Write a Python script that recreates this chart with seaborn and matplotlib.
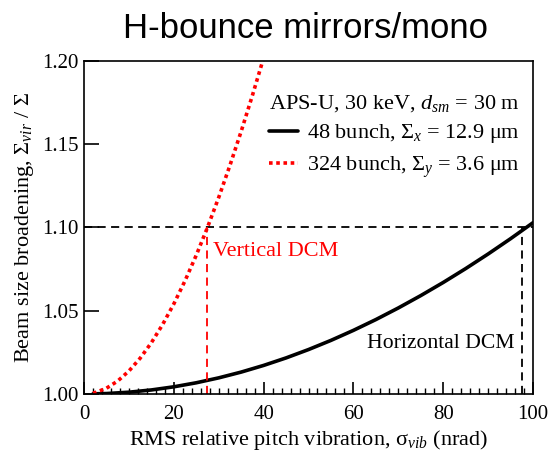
import numpy as np
import pandas as pd
import matplotlib
matplotlib.use("Agg")
import matplotlib.pyplot as plt
from matplotlib.ticker import MultipleLocator, FormatStrFormatter
from matplotlib.lines import Line2D
import seaborn as sns

# Data
vib_h = [2, 5, 10, 15, 20, 25, 30, 35, 40, 45, 50, 55, 60, 65, 70, 75, 80, 85, 90, 95, 100]
broad_h = [1.00011, 1.00027, 1.00108, 1.00243, 1.00432, 1.00674, 1.00969, 1.01316, 1.01716,
           1.02167, 1.02669, 1.03220, 1.03822, 1.04470, 1.05167, 1.05910, 1.06698, 1.07531,
           1.08408, 1.09327, 1.10288]
vib_v = [2, 2.5, 5, 7.5, 10, 12.5, 15, 17.5, 20, 22.5, 25, 27.5, 30, 32.5, 35, 37.5, 40]
broad_v = [1.00056, 1.00087, 1.00347, 1.00778, 1.01379, 1.02147, 1.03078, 1.04167, 1.05409,
           1.06800, 1.08333, 1.10003, 1.11803, 1.13728, 1.15770, 1.17925, 1.20185]

label_h = r"48 bunch, $\Sigma_x$ = 12.9 μm"
label_v = r"324 bunch, $\Sigma_y$ = 3.6 μm"
legend_title = r"APS-U, 30 keV, $d_{sm}$ = 30 m"
x_ticks = [0, 20, 40, 60, 80, 100]
y_ticks = [1.00, 1.05, 1.10, 1.15, 1.20]
threshold = 1.10
cross_v = 27.3
cross_h = 97.6

sns.set_style("ticks")
plt.rcParams["font.family"] = ["Liberation Serif", "DejaVu Serif"]
plt.rcParams["mathtext.fontset"] = "custom"
plt.rcParams["mathtext.rm"] = "Liberation Serif"
plt.rcParams["mathtext.it"] = "Liberation Serif:italic"
plt.rcParams["mathtext.bf"] = "Liberation Serif:bold"
for k in ["text.color", "axes.labelcolor", "xtick.color", "ytick.color",
          "axes.edgecolor", "legend.labelcolor"]:
    plt.rcParams[k] = "black"

df = pd.DataFrame({
    "vib": vib_h + vib_v,
    "broad": broad_h + broad_v,
    "series": [label_h] * len(vib_h) + [label_v] * len(vib_v),
})

fig = plt.figure(figsize=(5.6, 4.58), dpi=100)
ax = fig.add_axes([84 / 560, 1 - 394 / 458, (533 - 84) / 560, (394 - 61) / 458])

sns.lineplot(data=df, x="vib", y="broad", hue="series", style="series",
             palette={label_h: "black", label_v: "#ff0000"},
             dashes={label_h: "", label_v: (1.0, 1.0)},
             linewidth=2.6, ax=ax, legend=False)

dash = (0, (4.5, 3))
ax.plot([0, 100], [threshold, threshold], color="black", lw=1.3, ls=dash)
ax.plot([cross_v, cross_v], [1.0, threshold], color="#ff0000", lw=1.3, ls=dash)
ax.plot([cross_h, cross_h], [1.0, threshold], color="black", lw=1.3, ls=dash)

ax.text(28.8, 1.0853, "Vertical DCM", color="#ff0000", fontsize=16, va="center", ha="left")
ax.text(63, 1.0306, "Horizontal DCM", color="black", fontsize=15.6, va="center", ha="left")

ax.set_xlim(0, 100)
ax.set_ylim(1.0, 1.2)
ax.set_xticks(x_ticks)
ax.set_yticks(y_ticks)
ax.yaxis.set_major_formatter(FormatStrFormatter("%.2f"))
ax.xaxis.set_minor_locator(MultipleLocator(2))
ax.tick_params(axis="y", which="major", direction="in", length=11, width=1.2,
               labelsize=15, right=False, colors="black", pad=4)
ax.tick_params(axis="x", which="major", direction="in", length=9, width=1.2,
               labelsize=15, top=False, colors="black", pad=8)
ax.tick_params(axis="x", which="minor", direction="in", length=4.5, width=1.0, top=False)
ax.tick_params(axis="y", which="minor", left=False, right=False)
for s in ax.spines.values():
    s.set_visible(True)
    s.set_linewidth(1.2)
    s.set_color("black")

ax.set_xlabel(r"RMS relative pitch vibration, σ$_{vib}$ (nrad)", fontsize=16, labelpad=3)
ax.set_ylabel(r"Beam size broadening, $\Sigma_{vir}$ / $\Sigma$", fontsize=16, labelpad=4)

handles = [Line2D([], [], color="black", lw=2.6),
           Line2D([], [], color="#ff0000", lw=2.6, ls=(0, (1.0, 1.0)))]
leg = ax.legend(handles, [label_h, label_v], title=legend_title, loc="upper right",
                bbox_to_anchor=(1.0, 0.945), frameon=False, fontsize=16,
                title_fontsize=16, handlelength=1.3, handletextpad=0.4,
                labelspacing=0.4, borderaxespad=0.2)
leg._legend_box.align = "left"

fig.suptitle("H-bounce mirrors/mono", fontsize=25, family=["Liberation Sans", "DejaVu Sans"],
             x=306 / 560, y=1 - 29 / 458, va="center", color="black")

fig.savefig("out.png", dpi=100)
